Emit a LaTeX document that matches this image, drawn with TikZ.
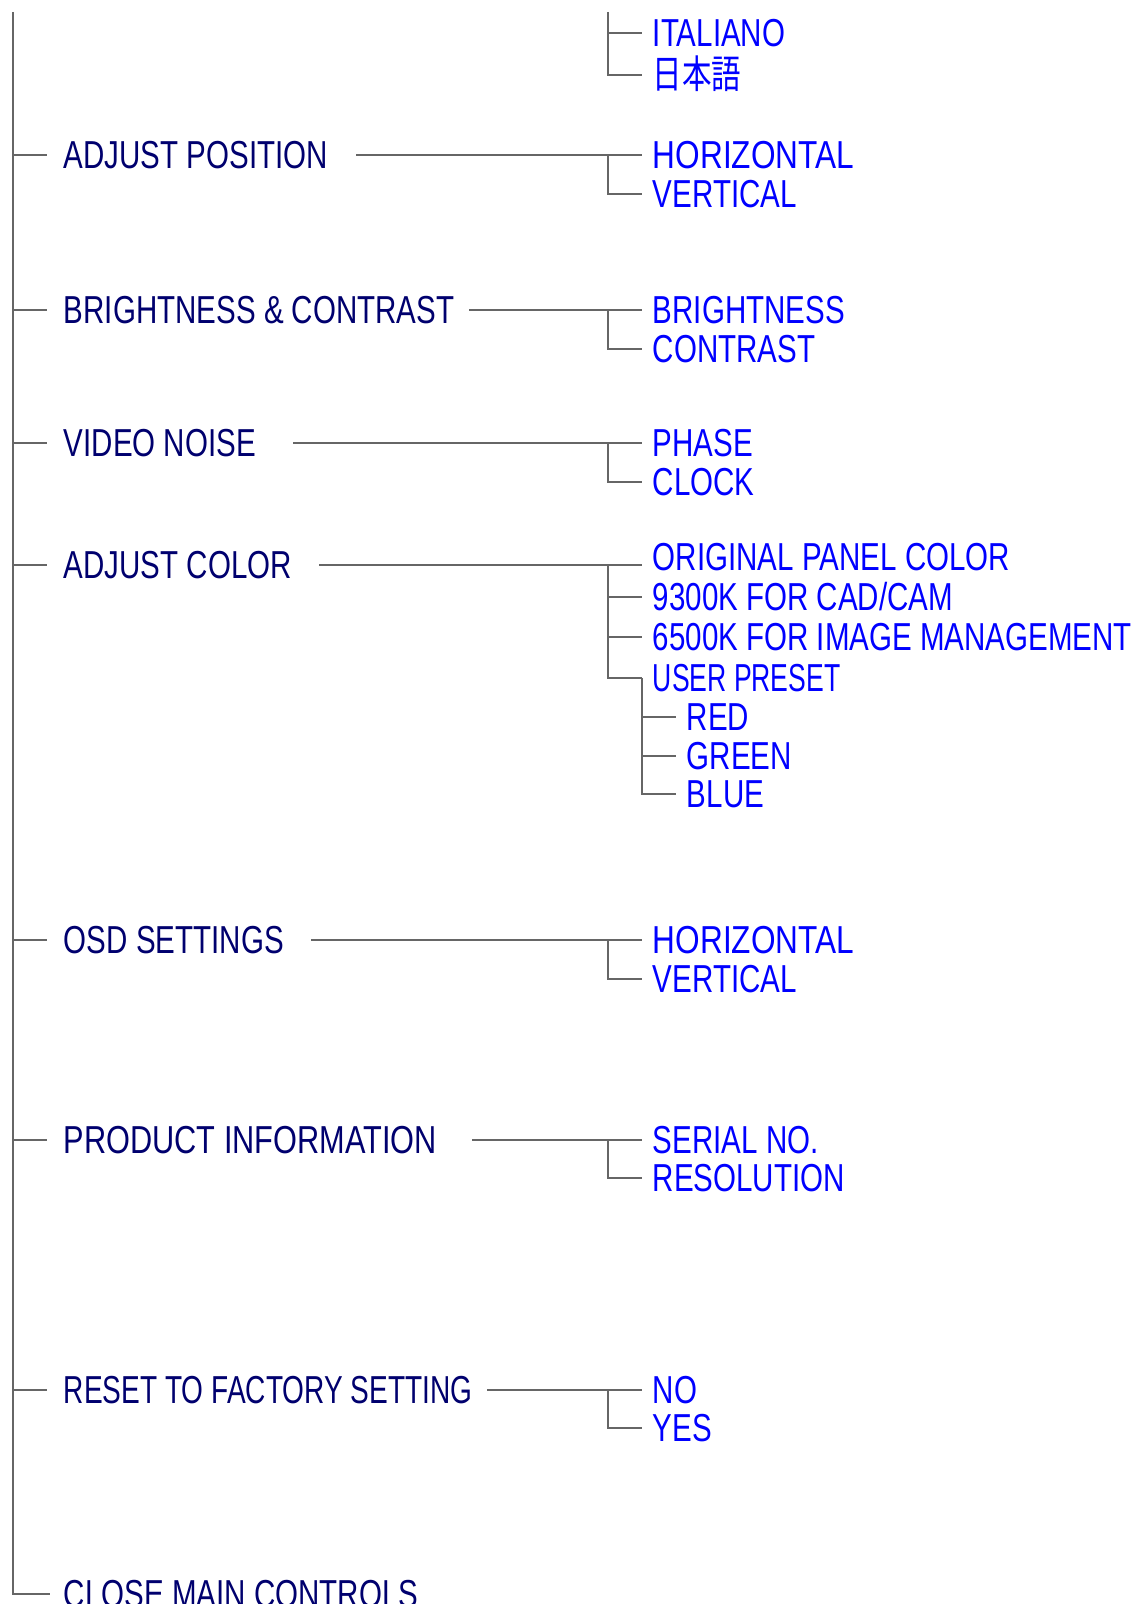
\documentclass[tikz,border=0pt]{standalone}
\usepackage{fontspec}
\setmainfont{Liberation Sans}[FakeStretch=0.757]
\newfontfamily\jpfont{Noto Sans CJK JP}[FakeStretch=0.757]
\definecolor{menuline}{RGB}{102,102,102}
\definecolor{mainblue}{RGB}{0,0,110}
\definecolor{subblue}{RGB}{0,0,255}
\tikzset{
    link/.style = {menuline, line width = 1.5pt},
    mainitem/.style = {anchor = west, inner xsep = 7.7pt, inner ysep = 0pt,
        font = \fontsize{22.2}{26}\selectfont, text height = 15.9pt,
        text depth = 0pt, text = mainblue},
    subitem/.style = {mainitem, inner xsep = 6pt, text = subblue}
}
\begin{document}
\begin{tikzpicture}[x = 0.02cm, y = -0.02cm]
        \useasboundingbox (0, 0) rectangle (1137, 1604);
        % main menu
        \coordinate (mtop) at (13, 12);
        \coordinate (sub) at (608, 12);
        \node [mainitem] (pos) at (50, 155) {ADJUST POSITION};
        \node [mainitem] (bri) at (50, 310) {BRIGHTNESS \& CONTRAST};
        \node [mainitem] (vid) at (50, 443) {VIDEO NOISE};
        \node [mainitem] (col) at (50, 565) {ADJUST COLOR};
        \node [mainitem] (osd) at (50, 940) {OSD SETTINGS};
        \node [mainitem] (inf) at (50, 1140) {\scalebox{1.04}[1]{PRODUCT INFORMATION}};
        \node [mainitem] (rst) at (50, 1390) {\scalebox{0.95}[1]{RESET TO FACTORY SETTING}};
        \node [mainitem] (cls) at (50, 1594) {CLOSE MAIN CONTROLS};
        % sub menus
        \node [subitem] (ita) at (642, 33) {ITALIANO};
        \node [subitem] (jpn) at (642, 75) {\jpfont 日本語};
        \node [subitem] (posh) at (642, 155) {\scalebox{1.07}[1]{HORIZONTAL}};
        \node [subitem] (posv) at (642, 194) {VERTICAL};
        \node [subitem] (brib) at (642, 310) {BRIGHTNESS};
        \node [subitem] (bric) at (642, 349) {CONTRAST};
        \node [subitem] (vidp) at (642, 443) {PHASE};
        \node [subitem] (vidc) at (642, 482) {CLOCK};
        \node [subitem] (colo) at (642, 557) {ORIGINAL PANEL COLOR};
        \node [subitem] (col9) at (642, 597) {9300K FOR CAD/CAM};
        \node [subitem] (col6) at (642, 637) {6500K FOR IMAGE MANAGEMENT};
        \node [subitem] (colu) at (642, 678) {\scalebox{0.9}[1]{USER PRESET}};
        \node [subitem] (colr) at (676, 717) {RED};
        \node [subitem] (colg) at (676, 756) {GREEN};
        \node [subitem] (colb) at (676, 794) {BLUE};
        \node [subitem] (osdh) at (642, 940) {\scalebox{1.07}[1]{HORIZONTAL}};
        \node [subitem] (osdv) at (642, 979) {VERTICAL};
        \node [subitem] (infs) at (642, 1140) {SERIAL NO.};
        \node [subitem] (infr) at (642, 1178) {RESOLUTION};
        \node [subitem] (rstn) at (642, 1390) {NO};
        \node [subitem] (rsty) at (642, 1428) {YES};
        % where the long lines start
        \coordinate (posx) at (356, 155);
        \coordinate (brix) at (469, 310);
        \coordinate (vidx) at (293, 443);
        \coordinate (colx) at (319, 565);
        \coordinate (osdx) at (311, 940);
        \coordinate (infx) at (472, 1140);
        \coordinate (rstx) at (487, 1390);
        % main line and its ticks
        \draw [link] (mtop) |- (cls.west);
        \draw [link] (mtop |- pos.west) -- ([xshift = -1.7pt] pos.west);
        \draw [link] (mtop |- bri.west) -- ([xshift = -1.7pt] bri.west);
        \draw [link] (mtop |- vid.west) -- ([xshift = -1.7pt] vid.west);
        \draw [link] (mtop |- col.west) -- ([xshift = -1.7pt] col.west);
        \draw [link] (mtop |- osd.west) -- ([xshift = -1.7pt] osd.west);
        \draw [link] (mtop |- inf.west) -- ([xshift = -1.7pt] inf.west);
        \draw [link] (mtop |- rst.west) -- ([xshift = -1.7pt] rst.west);
        % language
        \draw [link] (sub) |- (jpn.west);
        \draw [link] (sub |- ita.west) -- (ita.west);
        % position
        \draw [link] (posx) -- (posh.west);
        \draw [link] (sub |- posh.west) |- (posv.west);
        % brightness
        \draw [link] (brix) -- (brib.west);
        \draw [link] (sub |- brib.west) |- (bric.west);
        % video noise
        \draw [link] (vidx) -- (vidp.west);
        \draw [link] (sub |- vidp.west) |- (vidc.west);
        % color
        \draw [link] (colx) -- (colx -| colo.west);
        \draw [link] (colx -| sub) |- (colu.west);
        \draw [link] (sub |- col9.west) -- (col9.west);
        \draw [link] (sub |- col6.west) -- (col6.west);
        \draw [link] (colu.west) |- (colb.west);
        \draw [link] (colu.west |- colr.west) -- (colr.west);
        \draw [link] (colu.west |- colg.west) -- (colg.west);
        % osd
        \draw [link] (osdx) -- (osdh.west);
        \draw [link] (sub |- osdh.west) |- (osdv.west);
        % information
        \draw [link] (infx) -- (infs.west);
        \draw [link] (sub |- infs.west) |- (infr.west);
        % reset
        \draw [link] (rstx) -- (rstn.west);
        \draw [link] (sub |- rstn.west) |- (rsty.west);
    \end{tikzpicture}
\end{document}
